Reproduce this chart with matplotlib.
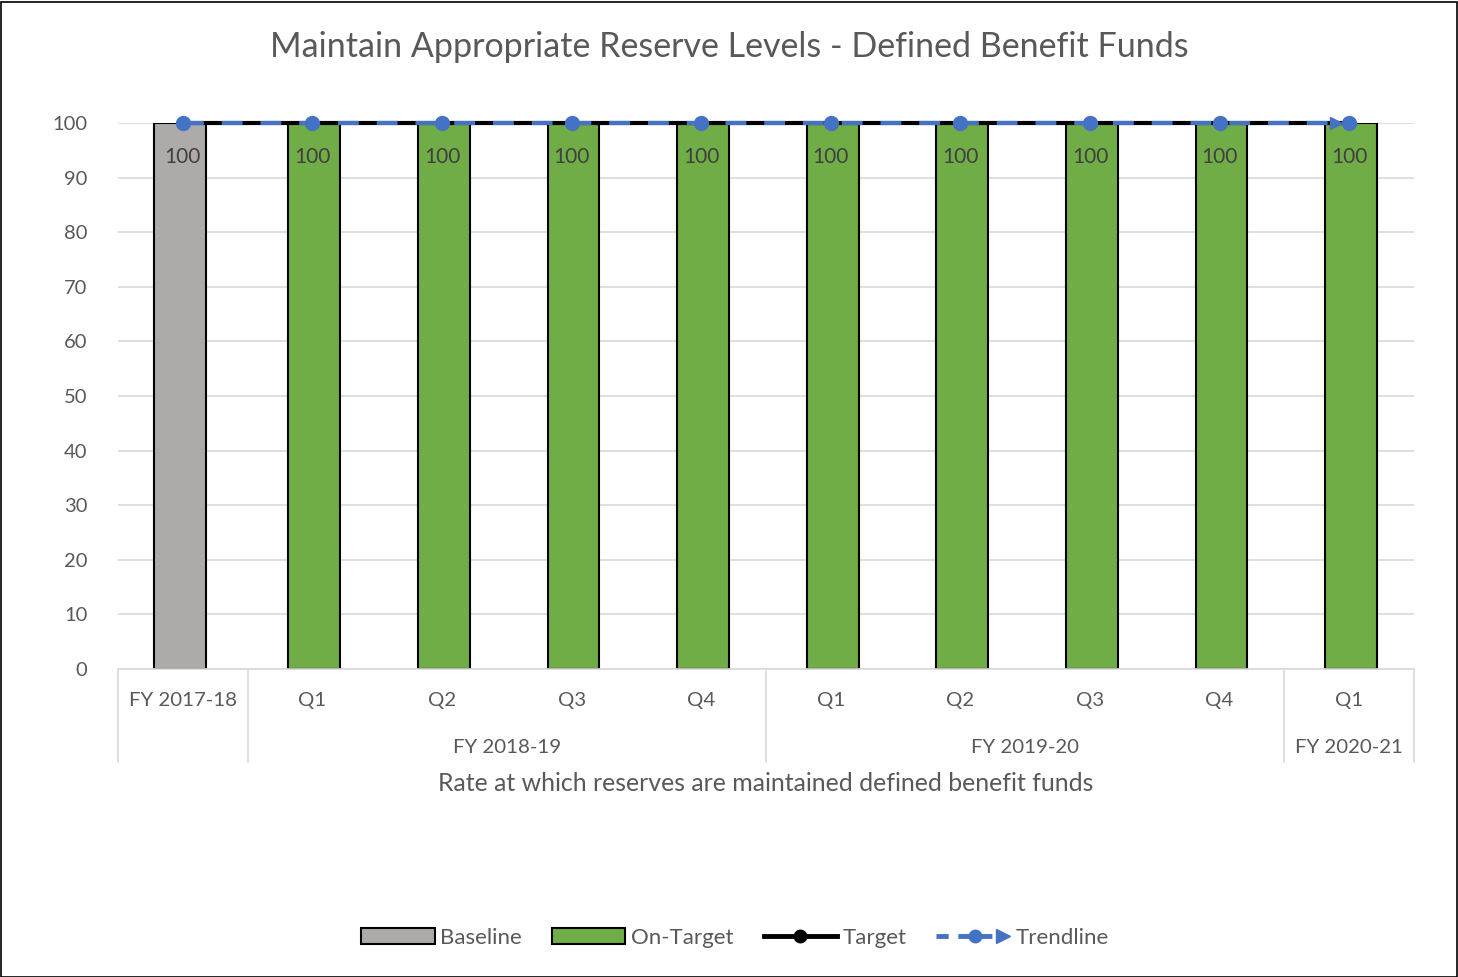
import matplotlib
matplotlib.use("Agg")
import matplotlib.pyplot as plt
from matplotlib.lines import Line2D
from matplotlib.patches import Patch, Rectangle
from matplotlib.legend_handler import HandlerBase

plt.rcParams['font.family'] = ['Lato', 'DejaVu Sans']

# Données
niveis_1 = ["FY 2017-18", "Q1", "Q2", "Q3", "Q4", "Q1", "Q2", "Q3", "Q4", "Q1"]
grupos = ["FY 2017-18", "FY 2018-19", "FY 2019-20", "FY 2020-21"]
grupo_tam = [1, 4, 4, 1]
baseline = [100, None, None, None, None, None, None, None, None, None]
on_target = [None, 100, 100, 100, 100, 100, 100, 100, 100, 100]
target = [100, 100, 100, 100, 100, 100, 100, 100, 100, 100]
trend = [100, 100, 100, 100, 100, 100, 100, 100, 100, 100]
y_ticks = [0, 10, 20, 30, 40, 50, 60, 70, 80, 90, 100]

COR_TXT = "#595959"
CINZA = "#AEAAAA"
VERDE = "#70AD47"
AZUL = "#4472C4"
TRACO = (0, (5.0, 4.3))


class HandlerTendencia(HandlerBase):
    """Linha tracejada + círculo + seta, como na legenda do Excel"""
    def create_artists(self, legend, orig, xdescent, ydescent, width, height, fontsize, trans):
        y = height / 2 - ydescent
        x_a, x_b = -xdescent, width - xdescent
        linha = Line2D([x_a, x_b - 6], [y, y], color=AZUL, lw=3.5, ls=(0, (2.5, 2.0)), transform=trans)
        circ = Line2D([x_a + width * 0.52], [y], marker="o", markersize=9, color=AZUL, transform=trans)
        seta = Line2D([x_b - 5], [y], marker=">", markersize=10, color=AZUL, transform=trans)
        return [linha, circ, seta]


W, H = 1458, 977
fig = plt.figure(figsize=(W / 100, H / 100), dpi=100)
fig.patches.append(Rectangle((0.5 / W, 0.5 / H), 1 - 2 / W, 1 - 2 / H, transform=fig.transFigure,
                             fill=False, edgecolor="black", linewidth=1.2))

x0, x1, y0, y1 = 118, 1414, 669, 123
ax = fig.add_axes([x0 / W, 1 - y0 / H, (x1 - x0) / W, (y0 - y1) / H])

n = len(niveis_1)
xs = list(range(n))

for i in xs:
    if baseline[i] is not None:
        ax.bar(i - 0.02, baseline[i], width=0.4, color=CINZA, edgecolor="black", linewidth=1.5, zorder=2)
        ax.text(i, baseline[i] - 6.2, str(baseline[i]), ha="center", va="center", fontsize=15, color="#404040", zorder=5)
    if on_target[i] is not None:
        ax.bar(i + 0.015, on_target[i], width=0.4, color=VERDE, edgecolor="black", linewidth=1.5, zorder=2)
        ax.text(i, on_target[i] - 6.2, str(on_target[i]), ha="center", va="center", fontsize=15, color="#404040", zorder=5)

ax.plot(xs, target, color="black", linewidth=3.0, zorder=3, clip_on=False)
ax.plot(xs, trend, color=AZUL, linewidth=3.0, linestyle=TRACO, marker="o", markersize=10,
        zorder=4, clip_on=False)
# ponta da seta no final da tendência
ax.plot([n - 1 - 0.1], [trend[-1]], marker=">", color=AZUL, markersize=9, zorder=4, clip_on=False)

ax.set_xlim(-0.5, n - 0.5)
ax.set_ylim(0, 100)
ax.set_yticks(y_ticks)
ax.tick_params(axis="y", length=0, labelsize=14.5, labelcolor=COR_TXT, pad=22)
ax.set_xticks([])
ax.grid(axis="y", color="#D9D9D9", linewidth=1.2, zorder=0)
ax.set_axisbelow(True)
for s in ["top", "right", "left"]:
    ax.spines[s].set_visible(False)
ax.spines["bottom"].set_color("#D9D9D9")
ax.spines["bottom"].set_linewidth(1.2)

# eixo de categorias em dois níveis
tr = ax.get_xaxis_transform()
for i, lab in enumerate(niveis_1):
    ax.text(i, -0.057, lab, transform=tr, ha="center", va="center", fontsize=14.7, color=COR_TXT)
inicio = -0.5
bordas = [inicio]
for g, t in zip(grupos, grupo_tam):
    fim = inicio + t
    if g != "FY 2017-18":
        ax.text((inicio + fim) / 2, -0.143, g, transform=tr, ha="center", va="center", fontsize=14.7, color=COR_TXT)
    bordas.append(fim)
    inicio = fim
for b in bordas:
    ax.plot([b, b], [0, -0.170], transform=tr, color="#D9D9D9", linewidth=1.2, clip_on=False)

ax.text(0.5, -0.209, "Rate at which reserves are maintained defined benefit funds", transform=ax.transAxes,
        ha="center", va="center", fontsize=17.9, color=COR_TXT)

fig.text(0.5, 1 - 47 / H, "Maintain Appropriate Reserve Levels - Defined Benefit Funds",
         ha="center", va="center", fontsize=24.5, color=COR_TXT)

handles = [
    Patch(facecolor=CINZA, edgecolor="black", linewidth=1.5),
    Patch(facecolor=VERDE, edgecolor="black", linewidth=1.5),
    Line2D([], [], color="black", linewidth=3.5, marker="o", markersize=9),
    Line2D([], [], color=AZUL),
]
fig.legend(handles, ["Baseline", "On-Target", "Target", "Trendline"], loc="center",
           bbox_to_anchor=(735 / W, 1 - 938 / H), ncol=4, frameon=False, fontsize=16,
           labelcolor=COR_TXT, handlelength=3.3, handletextpad=0.25, columnspacing=1.35,
           handler_map={handles[3]: HandlerTendencia()})

fig.savefig("out.png", dpi=100)
